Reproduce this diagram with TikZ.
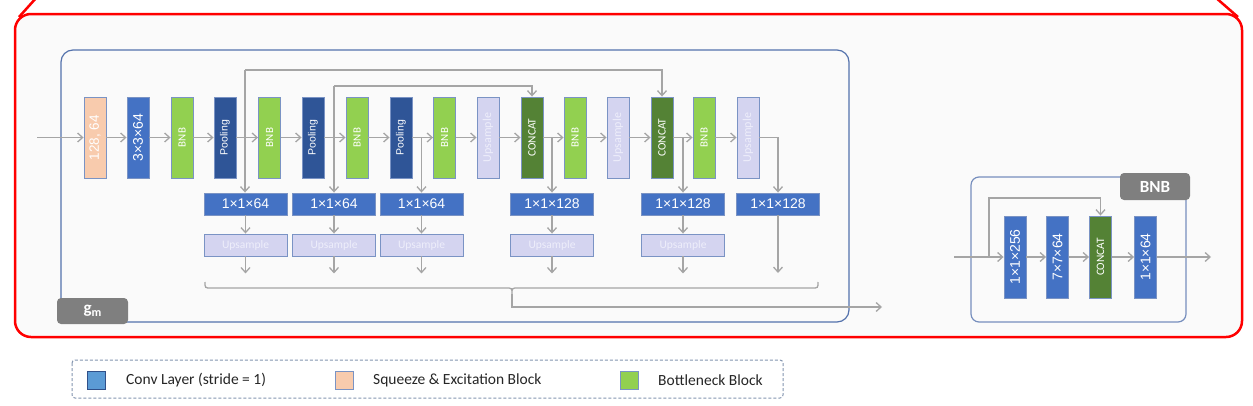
\documentclass[tikz,border=0pt]{standalone}
\usepackage{fontspec}
\setmainfont{Carlito}
\newfontfamily\arialf{Liberation Sans}
\usetikzlibrary{arrows.meta}
\definecolor{redb}{HTML}{FF0000}
\definecolor{bgc}{HTML}{FAFAFA}
\definecolor{frameb}{HTML}{5472AC}
\definecolor{bord}{HTML}{7A93C4}
\definecolor{convb}{HTML}{4472C4}
\definecolor{poolb}{HTML}{2F5597}
\definecolor{bnbg}{HTML}{92D050}
\definecolor{peach}{HTML}{F8CBAD}
\definecolor{lav}{HTML}{D4D4F0}
\definecolor{catg}{HTML}{548235}
\definecolor{labg}{HTML}{7F7F7F}
\definecolor{arrg}{HTML}{A5A5A5}
\definecolor{legb}{HTML}{5B9BD5}
\definecolor{legd}{HTML}{8496B0}
\definecolor{txtd}{HTML}{262626}
\definecolor{lavtxt}{HTML}{EEEEFB}
\tikzset{
  blk/.style={draw=bord, line width=0.9pt, minimum width=22pt, minimum height=81pt, inner sep=0pt, text=white},
  conv/.style={blk, fill=convb, font=\arialf\fontsize{14}{16}\selectfont},
  se/.style={blk, fill=peach, font=\arialf\fontsize{13.5}{16}\selectfont},
  bnb/.style={blk, fill=bnbg, font=\fontsize{11}{13}\selectfont},
  pool/.style={blk, fill=poolb, font=\arialf\fontsize{10.5}{12}\selectfont},
  ups/.style={blk, fill=lav, text=lavtxt, font=\fontsize{12}{14}\selectfont},
  cat/.style={blk, fill=catg, font=\fontsize{11.3}{13}\selectfont},
  hconv/.style={draw=bord, line width=0.9pt, fill=convb, minimum width=83pt, minimum height=22pt, inner sep=0pt, text=white, font=\arialf\fontsize{14}{16}\selectfont},
  hups/.style={draw=bord, line width=0.9pt, fill=lav, minimum width=83pt, minimum height=22pt, inner sep=0pt, text=lavtxt, font=\fontsize{11.5}{14}\selectfont},
  arr/.style={draw=arrg, line width=1.3pt, -{Straight Barb[length=5pt,width=9pt]}},
  ln/.style={draw=arrg, line width=1.3pt},
  tag/.style={fill=labg, rounded corners=4pt, text=white, inner sep=0pt, font=\bfseries\fontsize{17}{19}\selectfont},
  legsq/.style={line width=0.9pt, minimum width=18pt, minimum height=18pt, inner sep=0pt},
  legtxt/.style={anchor=west, text=txtd, inner sep=0pt, font=\fontsize{15.5}{18}\selectfont},
}
\begin{document}
\begin{tikzpicture}[x=1pt,y=-1pt]
\useasboundingbox (0,0) rectangle (1253,405);
\clip (0,0) rectangle (1253,405);
\fill[white] (0,0) rectangle (1253,405);
% red zoom frame
\draw[redb, line width=2.5pt, fill=bgc, rounded corners=16pt] (15,14) rectangle (1242,337);
\draw[redb, line width=2.5pt] (19,17) -- (37,-3);
\draw[redb, line width=2.5pt] (1238,17) -- (1215,-3);
% g_m frame
\draw[frameb, line width=1.2pt, rounded corners=12pt] (61,50) rectangle (849,322);
\node[tag, minimum width=71pt, minimum height=26pt] (gml) at (92.5,311) {g\raisebox{-0.3ex}{\fontsize{12}{14}\selectfont m}};
% main row
\node[se]   (b1)  at (95,137.5)    {\rotatebox{90}{128, 64}};
\node[conv] (b2)  at (138,137.5)   {\rotatebox{90}{3×3×64}};
\node[bnb]  (b3)  at (182,137.5)   {\rotatebox{90}{BNB}};
\node[pool] (b4)  at (225,137.5)   {\rotatebox{90}{Pooling}};
\node[bnb]  (b5)  at (269.5,137.5) {\rotatebox{90}{BNB}};
\node[pool] (b6)  at (313,137.5)   {\rotatebox{90}{Pooling}};
\node[bnb]  (b7)  at (357,137.5)   {\rotatebox{90}{BNB}};
\node[pool] (b8)  at (401,137.5)   {\rotatebox{90}{Pooling}};
\node[bnb]  (b9)  at (444.5,137.5) {\rotatebox{90}{BNB}};
\node[ups]  (b10) at (488,137.5)   {\rotatebox{90}{Upsample}};
\node[cat]  (b11) at (532,137.5)   {\rotatebox{90}{CONCAT}};
\node[bnb]  (b12) at (575,137.5)   {\rotatebox{90}{BNB}};
\node[ups]  (b13) at (618,137.5)   {\rotatebox{90}{Upsample}};
\node[cat]  (b14) at (662,137.5)   {\rotatebox{90}{CONCAT}};
\node[bnb]  (b15) at (704,137.5)   {\rotatebox{90}{BNB}};
\node[ups]  (b16) at (748,137.5)   {\rotatebox{90}{Upsample}};
\coordinate (in) at (37,137.5);
\draw[arr] (in) -- (b1);
\foreach \a/\b in {b1/b2,b2/b3,b3/b4,b4/b5,b5/b6,b6/b7,b7/b8,b8/b9,b9/b10,b10/b11,b11/b12,b12/b13,b13/b14,b14/b15,b15/b16}
  \draw[arr] (\a) -- (\b);
% second row
\node[hconv] (c1) at (245.5,204) {1×1×64};
\node[hconv] (c2) at (334,204)   {1×1×64};
\node[hconv] (c3) at (421.5,204) {1×1×64};
\node[hconv] (c4) at (552,204)   {1×1×128};
\node[hconv] (c5) at (683,204)   {1×1×128};
\node[hconv] (c6) at (778,204)   {1×1×128};
\node[hups] (u1) at (245.5,245) {Upsample};
\node[hups] (u2) at (334,245)   {Upsample};
\node[hups] (u3) at (421.5,245) {Upsample};
\node[hups] (u4) at (552,245)   {Upsample};
\node[hups] (u5) at (683,245)   {Upsample};
% skip connections
\coordinate (sA) at (245,70);
\coordinate (sB) at (334,86);
\draw[arr] (sA) -- (sA |- c1.north);
\draw[arr] (sA) -| (b14.north);
\draw[arr] (sB) -- (c2.north);
\draw[arr] (sB) -| (b11.north);
\draw[arr] (c3.north |- b8.east) -- (c3.north);
\draw[arr] (c4.north |- b11.east) -- (c4.north);
\draw[arr] (c5.north |- b14.east) -- (c5.north);
\draw[arr] (b16.east) -| (c6.north);
\foreach \i in {1,...,5} {
  \draw[arr] (c\i) -- (u\i);
  \coordinate (e\i) at ([yshift=-17pt]u\i.south);
  \draw[arr] (u\i.south) -- (e\i);
}
\coordinate (e6) at (778,273);
\draw[arr] (c6.south) -- (e6);
% brace
\coordinate (tip) at (512,294);
\coordinate (gout) at (882,307);
\draw[ln] (205,282) .. controls (205,288) .. (211,288) -- (506,288) .. controls (512,288) .. (tip)
          .. controls (512,288) .. (518,288) -- (812,288) .. controls (818,288) .. (818,282);
\draw[arr] (tip) |- (gout);
% BNB detail
\draw[frameb!80, line width=1.2pt, rounded corners=8pt] (971,177) rectangle (1186,322);
\node[tag, minimum width=70pt, minimum height=27pt] (bnbl) at (1155,186.5) {BNB};
\tikzset{rblk/.style={minimum height=82pt}}
\node[conv, rblk] (r1) at (1015,257)   {\rotatebox{90}{1×1×256}};
\node[conv, rblk] (r2) at (1057.5,257) {\rotatebox{90}{7×7×64}};
\node[cat, rblk]  (r3) at (1100.5,257) {\rotatebox{90}{CONCAT}};
\node[conv, rblk] (r4) at (1145.5,257) {\rotatebox{90}{1×1×64}};
\coordinate (rin) at (954,257);
\coordinate (rout) at (1211,257);
\coordinate (rs) at (989,257);
\draw[arr] (rin) -- (r1);
\draw[arr] (r1) -- (r2);
\draw[arr] (r2) -- (r3);
\draw[arr] (r3) -- (r4);
\draw[arr] (r4) -- (rout);
\draw[arr] (rs) |- (1050,198) -| (r3.north);
% legend
\draw[legd, line width=1pt, dash pattern=on 3pt off 2pt, rounded corners=3pt] (72,360) rectangle (783,398);
\node[legsq, fill=legb, draw=convb!70!black] (l1) at (96.5,380) {};
\node[legtxt] (t1) at (126,380) {Conv Layer (stride = 1)};
\node[legsq, fill=peach, draw=bord] (l2) at (344.5,380) {};
\node[legtxt] (t2) at (373,380) {Squeeze \& Excitation Block};
\node[legsq, fill=bnbg, draw=bord] (l3) at (629,380) {};
\node[legtxt] (t3) at (658,380) {Bottleneck Block};
\end{tikzpicture}
\end{document}
